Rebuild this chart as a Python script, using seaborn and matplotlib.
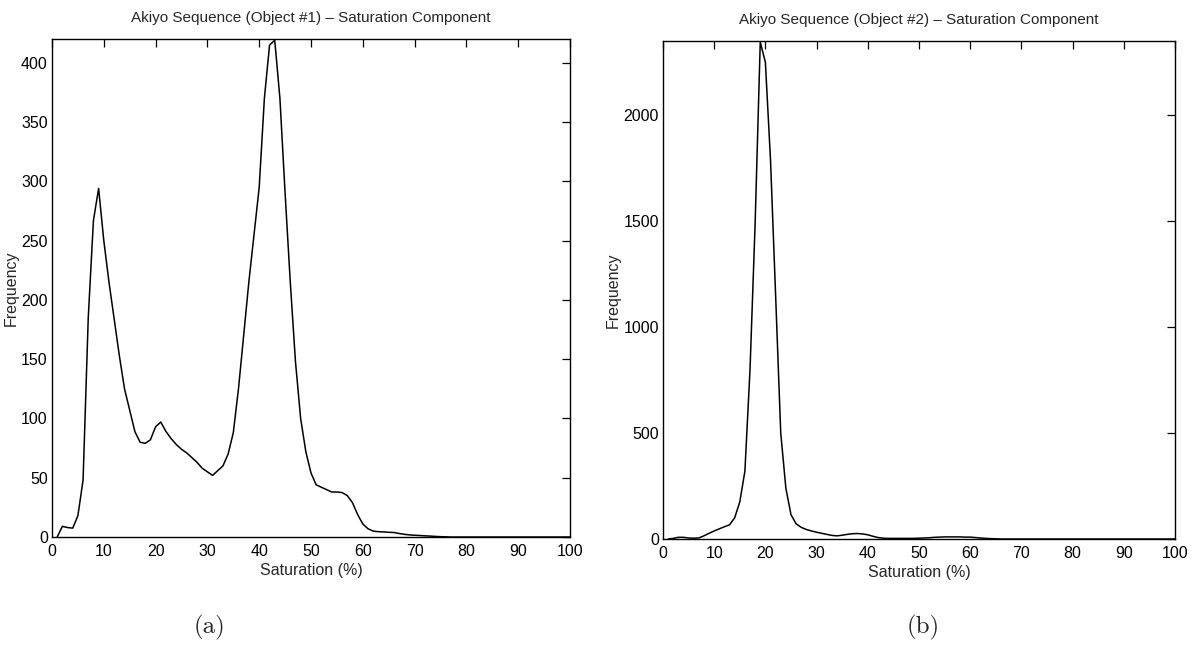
import numpy as np
import pandas as pd
import seaborn as sns
import matplotlib
import matplotlib.pyplot as plt
from matplotlib import font_manager

# saturation histograms
sat = list(range(1, 101))

freq_obj1 = [0, 9, 8, 7.5, 18, 48, 185, 267, 294, 250,
             215, 184, 153, 125, 107, 89, 80, 79, 82, 93,
             97, 89, 83, 78, 74, 71, 67, 63, 58, 55,
             52, 56, 60, 70, 88, 125, 170, 215, 255, 295,
             370, 415, 419, 370, 290, 215, 148, 100, 72, 54,
             44, 42, 40, 38, 38, 37.5, 35, 29, 19, 11,
             7, 5, 4.5, 4.3, 4, 3.8, 3, 2.3, 1.8, 1.5,
             1.3, 1, 0.8, 0.5, 0.3, 0.2, 0, 0, 0, 0,
             0, 0, 0, 0, 0, 0, 0, 0, 0, 0,
             0, 0, 0, 0, 0, 0, 0, 0, 0, 0]

freq_obj2 = [0, 3, 8, 8, 5, 4, 5, 15, 27, 38,
             48, 58, 67, 100, 175, 320, 800, 1490, 2345, 2250,
             1790, 1150, 500, 240, 115, 72, 55, 45, 38, 32,
             27, 22, 17, 15, 18, 22, 25, 26, 24, 20,
             13, 7, 4, 3, 3, 3, 3, 3, 3, 4,
             5, 6, 8, 9, 10, 10, 10, 10, 9, 9,
             7, 5, 3, 2, 1, 0, 0, 0, 0, 0,
             0, 0, 0, 0, 0, 0, 0, 0, 0, 0,
             0, 0, 0, 0, 0, 0, 0, 0, 0, 0,
             0, 0, 0, 0, 0, 0, 0, 0, 0, 0]

titles = ['Akiyo Sequence (Object #1) \u2013 Saturation Component',
          'Akiyo Sequence (Object #2) \u2013 Saturation Component']
captions = ['(a)', '(b)']
y_ticks = [np.arange(0, 401, 50), np.arange(0, 2001, 500)]
y_tops = [420, 2350]

sns.set_theme(style='white')
names = {f.name for f in font_manager.fontManager.ttflist}
sans = 'Liberation Sans Narrow' if 'Liberation Sans Narrow' in names else 'Liberation Sans'
plt.rcParams['font.family'] = [sans, 'DejaVu Sans']

fig = plt.figure(figsize=(11.98, 6.45), dpi=100)
ax1 = fig.add_axes([0.0434, 0.1674, 0.4324, 0.772])
ax2 = fig.add_axes([0.5534, 0.1643, 0.4274, 0.772])

df = pd.DataFrame({'sat': sat, 'obj1': freq_obj1, 'obj2': freq_obj2})

for ax, col, title, yt, top in zip([ax1, ax2], ['obj1', 'obj2'], titles,
                                   y_ticks, y_tops):
    sns.lineplot(data=df, x='sat', y=col, ax=ax, color='black', linewidth=1.1)
    ax.set_xlim(0, 100)
    ax.set_ylim(0, top)
    ax.set_xticks(np.arange(0, 101, 10))
    ax.set_yticks(yt)
    ax.tick_params(direction='in', length=6, width=0.9, top=True, right=True,
                   labelsize=11.5, pad=3, colors='black')
    ax.tick_params(axis='x', pad=5)
    for s in ax.spines.values():
        s.set_color('black')
        s.set_linewidth(1.0)
        s.set_visible(True)
    ax.set_title(title, fontsize=11, pad=12)
    ax.set_xlabel('Saturation (%)', fontsize=11.5, labelpad=3)
    ax.set_ylabel('Frequency', fontsize=11.5, labelpad=2)

# subfigure captions
fig.text(210 / 1198, 1 - 627 / 645, captions[0], ha='center', va='center',
         fontsize=18, family='cmr10')
fig.text(923 / 1198, 1 - 627 / 645, captions[1], ha='center', va='center',
         fontsize=18, family='cmr10')

fig.savefig('out.png', dpi=100)
